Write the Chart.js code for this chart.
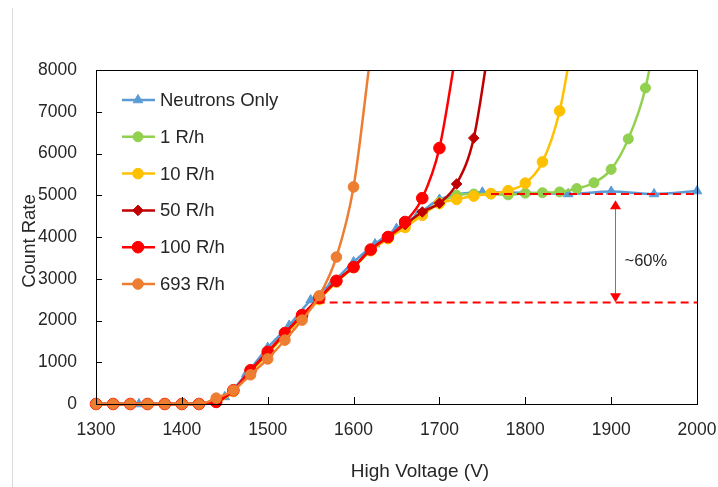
<!DOCTYPE html>
<html>
<head>
<meta charset="utf-8">
<script src="https://cdn.jsdelivr.net/npm/chart.js@4.4.1/dist/chart.umd.min.js"></script>
<style>
  html, body { margin: 0; padding: 0; background: #ffffff; }
  #wrap { width: 718px; height: 487px; }
</style>
</head>
<body>
<div id="wrap"><canvas id="c" width="718" height="487"></canvas></div>
<script>
// ---------------- data ----------------
const seriesNames = ["Neutrons Only", "1 R/h", "10 R/h", "50 R/h", "100 R/h", "693 R/h"];

const neutronsV = [1300, 1350, 1400, 1450, 1475, 1500, 1525, 1550, 1575, 1600, 1625, 1650, 1675, 1700, 1750, 1800, 1850, 1900, 1950, 2000];
const neutronsC = [0, 0, 0, 170, 720, 1350, 1880, 2490, 2900, 3400, 3830, 4200, 4540, 4900, 5070, 5060, 5030, 5090, 5030, 5100];

const r1V = [1300, 1320, 1340, 1360, 1380, 1400, 1420, 1440, 1460, 1480, 1500, 1520, 1540, 1560, 1580, 1600, 1620, 1640, 1660, 1680, 1700, 1720, 1740, 1760, 1780, 1800, 1820, 1840, 1860, 1880, 1900, 1920, 1940, 1960];
const r1C = [0, 0, 0, 0, 0, 0, 0, 50, 320, 790, 1230, 1680, 2110, 2530, 2930, 3280, 3680, 3980, 4270, 4560, 4830, 5000, 5030, 5030, 5010, 5050, 5060, 5080, 5160, 5300, 5620, 6350, 7570, 9800];

const r10V = [1300, 1320, 1340, 1360, 1380, 1400, 1420, 1440, 1460, 1480, 1500, 1520, 1540, 1560, 1580, 1600, 1620, 1640, 1660, 1680, 1700, 1720, 1740, 1760, 1780, 1800, 1820, 1840, 1860];
const r10C = [0, 0, 0, 0, 0, 0, 0, 40, 300, 760, 1200, 1650, 2070, 2500, 2920, 3270, 3670, 3960, 4230, 4520, 4800, 4900, 4980, 5040, 5110, 5290, 5800, 7020, 9300];

const r50V = [1300, 1320, 1340, 1360, 1380, 1400, 1420, 1440, 1460, 1480, 1500, 1520, 1540, 1560, 1580, 1600, 1620, 1640, 1660, 1680, 1700, 1720, 1740, 1760];
const r50C = [0, 0, 0, 0, 0, 0, 0, 50, 330, 800, 1240, 1690, 2120, 2540, 2940, 3290, 3700, 4000, 4300, 4600, 4810, 5270, 6370, 8900];

const r100V = [1300, 1320, 1340, 1360, 1380, 1400, 1420, 1440, 1460, 1480, 1500, 1520, 1540, 1560, 1580, 1600, 1620, 1640, 1660, 1680, 1700, 1720];
const r100C = [0, 0, 0, 0, 0, 0, 0, 50, 330, 810, 1250, 1700, 2130, 2540, 2950, 3280, 3700, 4000, 4360, 4930, 6130, 8500];

const r693V = [1300, 1320, 1340, 1360, 1380, 1400, 1420, 1440, 1460, 1480, 1500, 1520, 1540, 1560, 1580, 1600, 1620];
const r693C = [0, 0, 0, 0, 0, 0, 0, 140, 330, 700, 1080, 1530, 2010, 2590, 3520, 5200, 8400];

const xTicks = [1300, 1400, 1500, 1600, 1700, 1800, 1900, 2000];
const yTicks = [0, 1000, 2000, 3000, 4000, 5000, 6000, 7000, 8000];

// annotation values (data units)
const plateauLevel = 5030;
const plateauStartV = 1760;
const halfLevel = 2430;
const halfStartV = 1557;
const arrowV = 1904;
const arrowTop = 4880;
const arrowBottom = 2440;
const arrowLabel = "~60%";
const xTitle = "High Voltage (V)";
const yTitle = "Count Rate";

// ---------------- styles ----------------
const FONT = "'Liberation Sans', Arial, sans-serif";
const TEXT = "#262626";
const styles = [
  { color: "#5B9BD5", pointStyle: "triangle", radius: 5.5, order: 5 },
  { color: "#92D050", pointStyle: "circle", radius: 5, order: 4 },
  { color: "#FFC000", pointStyle: "circle", radius: 5.3, order: 3 },
  { color: "#C00000", pointStyle: "rectRot", radius: 5.3, order: 2 },
  { color: "#FF0000", pointStyle: "circle", radius: 5.8, order: 1 },
  { color: "#ED7D31", pointStyle: "circle", radius: 5.3, order: 0 }
];
const seriesX = [neutronsV, r1V, r10V, r50V, r100V, r693V];
const seriesY = [neutronsC, r1C, r10C, r50C, r100C, r693C];

const datasets = seriesNames.map((name, i) => ({
  label: name,
  data: seriesX[i].map((v, j) => ({ x: v, y: seriesY[i][j] })),
  borderColor: styles[i].color,
  backgroundColor: styles[i].color,
  pointBackgroundColor: styles[i].color,
  pointBorderColor: styles[i].color,
  pointStyle: styles[i].pointStyle,
  pointRadius: styles[i].radius,
  pointBorderWidth: 1,
  borderWidth: 2.5,
  cubicInterpolationMode: "monotone",
  order: styles[i].order,
  clip: { left: 10, top: 0, right: 10, bottom: 10 }
}));

const decor = {
  id: "decor",
  beforeDraw(chart) {
    const ctx = chart.ctx;
    ctx.save();
    ctx.fillStyle = "#ffffff";
    ctx.fillRect(0, 0, chart.width, chart.height);
    ctx.strokeStyle = "#d9d9d9";
    ctx.lineWidth = 1;
    ctx.beginPath();
    ctx.moveTo(12.5, 8);
    ctx.lineTo(12.5, chart.height);
    ctx.stroke();
    ctx.restore();
  },
  afterDatasetsDraw(chart) {
    const ctx = chart.ctx;
    const xs = chart.scales.x, ys = chart.scales.y;
    const a = chart.chartArea;
    ctx.save();
    // dashed reference lines
    ctx.strokeStyle = "#FF0000";
    ctx.lineWidth = 2;
    ctx.setLineDash([8, 5]);
    ctx.beginPath();
    ctx.moveTo(xs.getPixelForValue(plateauStartV), ys.getPixelForValue(plateauLevel));
    ctx.lineTo(a.right, ys.getPixelForValue(plateauLevel));
    ctx.moveTo(xs.getPixelForValue(halfStartV), ys.getPixelForValue(halfLevel));
    ctx.lineTo(a.right, ys.getPixelForValue(halfLevel));
    ctx.stroke();
    ctx.setLineDash([]);
    // arrow
    const ax = Math.round(xs.getPixelForValue(arrowV)) + 0.5;
    const yt = ys.getPixelForValue(arrowTop);
    const yb = ys.getPixelForValue(arrowBottom);
    ctx.lineWidth = 1;
    ctx.strokeStyle = "#FF4040";
    ctx.beginPath();
    ctx.moveTo(ax, yt + 8);
    ctx.lineTo(ax, yb - 8);
    ctx.stroke();
    ctx.fillStyle = "#FF0000";
    ctx.beginPath();
    ctx.moveTo(ax, yt); ctx.lineTo(ax - 5.5, yt + 9); ctx.lineTo(ax + 5.5, yt + 9); ctx.closePath();
    ctx.fill();
    ctx.beginPath();
    ctx.moveTo(ax, yb); ctx.lineTo(ax - 5.5, yb - 9); ctx.lineTo(ax + 5.5, yb - 9); ctx.closePath();
    ctx.fill();
    ctx.fillStyle = TEXT;
    ctx.font = "16.5px " + FONT;
    ctx.textAlign = "left";
    ctx.textBaseline = "middle";
    ctx.fillText(arrowLabel, ax + 9, (yt + yb) / 2 + 10);
    ctx.restore();
  },
  afterDraw(chart) {
    const ctx = chart.ctx;
    const xs = chart.scales.x, ys = chart.scales.y;
    const a = chart.chartArea;
    ctx.save();
    // plot frame
    ctx.strokeStyle = "#000000";
    ctx.lineWidth = 1;
    ctx.strokeRect(Math.round(a.left) + 0.5, Math.round(a.top) + 0.5, Math.round(a.right - a.left), Math.round(a.bottom - a.top));
    // inside tick marks
    ctx.beginPath();
    yTicks.forEach(v => {
      const y = Math.round(ys.getPixelForValue(v)) + 0.5;
      ctx.moveTo(a.left, y); ctx.lineTo(a.left + 6, y);
    });
    xTicks.forEach(v => {
      const x = Math.round(xs.getPixelForValue(v)) + 0.5;
      ctx.moveTo(x, a.bottom); ctx.lineTo(x, a.bottom - 7);
    });
    ctx.stroke();
    // axis titles
    ctx.fillStyle = TEXT;
    ctx.textAlign = "center";
    ctx.textBaseline = "middle";
    ctx.font = "19px " + FONT;
    ctx.fillText(xTitle, 420, 472);
    ctx.save();
    ctx.translate(30, 241);
    ctx.rotate(-Math.PI / 2);
    ctx.font = "18.5px " + FONT;
    ctx.fillText(yTitle, 0, 0);
    ctx.restore();
    // legend
    const lx0 = a.left + 26, lx1 = a.left + 59, mx = a.left + 42, tx = a.left + 64;
    ctx.font = "18.5px " + FONT;
    ctx.textAlign = "left";
    seriesNames.forEach((name, i) => {
      const y = a.top + 30 + i * 36.8;
      ctx.strokeStyle = styles[i].color;
      ctx.fillStyle = styles[i].color;
      ctx.lineWidth = 2.5;
      ctx.beginPath();
      ctx.moveTo(lx0, y); ctx.lineTo(lx1, y);
      ctx.stroke();
      ctx.lineWidth = 1;
      Chart.helpers.drawPoint(ctx, { pointStyle: styles[i].pointStyle, radius: styles[i].radius, borderWidth: 1, rotation: 0 }, mx, y);
      ctx.fillStyle = TEXT;
      ctx.fillText(name, tx, y + 1);
    });
    ctx.restore();
  }
};

new Chart(document.getElementById("c"), {
  type: "line",
  data: { datasets },
  options: {
    responsive: false,
    animation: false,
    devicePixelRatio: 1,
    layout: { padding: { top: 70, right: 21, left: 0, bottom: 0 } },
    plugins: { legend: { display: false }, tooltip: { enabled: false } },
    scales: {
      x: {
        type: "linear",
        min: 1300, max: 2000,
        afterFit(s) { s.height = 83; s.paddingLeft = 0; s.paddingRight = 0; },
        afterBuildTicks(s) { s.ticks = xTicks.map(v => ({ value: v })); },
        grid: { display: false, drawTicks: false },
        border: { display: false },
        ticks: { color: TEXT, font: { family: FONT, size: 17.5 }, padding: 16, maxRotation: 0, callback: v => String(v) }
      },
      y: {
        type: "linear",
        min: 0, max: 8000,
        afterFit(s) { s.width = 96; s.paddingTop = 0; s.paddingBottom = 0; },
        afterBuildTicks(s) { s.ticks = yTicks.map(v => ({ value: v })); },
        grid: { display: false, drawTicks: false },
        border: { display: false },
        ticks: { color: TEXT, font: { family: FONT, size: 17.5 }, padding: 19, callback: v => String(v) }
      }
    }
  },
  plugins: [decor]
});
</script>
</body>
</html>
